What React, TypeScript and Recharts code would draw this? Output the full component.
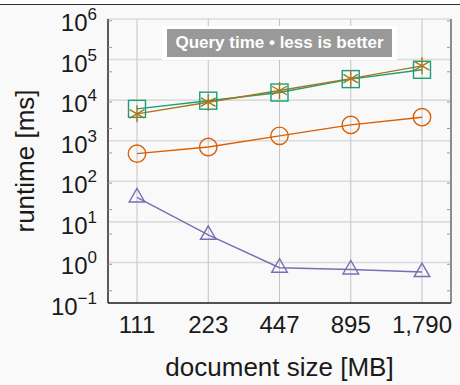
import React from 'react';
import { LineChart, Line, XAxis, YAxis, CartesianGrid, Legend } from 'recharts';

const categories = ['111', '223', '447', '895', '1,790'];
const squareSeries = [6100, 9700, 15400, 33000, 56000];
const starSeries = [4600, 8900, 17300, 34000, 70000];
const circleSeries = [480, 700, 1320, 2450, 3800];
const triangleSeries = [40, 4.8, 0.74, 0.67, 0.58];
const majorTicks = [0.1, 1, 10, 100, 1000, 10000, 100000, 1000000];
const minorMultipliers = [2, 3, 4, 5, 6, 7, 8, 9];
const legendText = 'Query time \u2022 less is better';
const xLabel = 'document size [MB]';
const yLabel = 'runtime [ms]';

const minorTicks: number[] = [];
for (let k = -1; k <= 5; k++) {
  for (const m of minorMultipliers) minorTicks.push(Number((m * Math.pow(10, k)).toPrecision(3)));
}

const data = categories.map((c, i) => ({
  cat: c,
  sq: squareSeries[i],
  st: starSeries[i],
  ci: circleSeries[i],
  tr: triangleSeries[i],
}));

const FONT = '"Liberation Sans", Arial, sans-serif';
const TEAL = '#1b9e77';
const OCHRE = '#a6761d';
const ORANGE = '#d95f02';
const PURPLE = '#7570b3';

const SquareDot = (p: any) => {
  const { cx, cy } = p;
  if (cx == null || cy == null) return null;
  const h = 8.5;
  return <rect x={cx - h} y={cy - h} width={2 * h} height={2 * h} fill="none" stroke={TEAL} strokeWidth={1.4} />;
};
const StarDot = (p: any) => {
  const { cx, cy } = p;
  if (cx == null || cy == null) return null;
  const r = 8.5;
  const dx = r * Math.cos(Math.PI / 6);
  const dy = r * Math.sin(Math.PI / 6);
  return (
    <g stroke={OCHRE} strokeWidth={1.4} fill="none">
      <line x1={cx} y1={cy - r} x2={cx} y2={cy + r} />
      <line x1={cx - dx} y1={cy - dy} x2={cx + dx} y2={cy + dy} />
      <line x1={cx - dx} y1={cy + dy} x2={cx + dx} y2={cy - dy} />
    </g>
  );
};
const CircleDot = (p: any) => {
  const { cx, cy } = p;
  if (cx == null || cy == null) return null;
  return <circle cx={cx} cy={cy} r={8.7} fill="none" stroke={ORANGE} strokeWidth={1.4} />;
};
const TriangleDot = (p: any) => {
  const { cx, cy } = p;
  if (cx == null || cy == null) return null;
  const r = 9;
  const dx = r * Math.cos(Math.PI / 6);
  const dy = r * Math.sin(Math.PI / 6);
  return (
    <polygon
      points={`${cx},${cy - r} ${cx - dx},${cy + dy} ${cx + dx},${cy + dy}`}
      fill="none"
      stroke={PURPLE}
      strokeWidth={1.4}
    />
  );
};

const YTick = (p: any) => {
  const { x, y, payload } = p;
  const exp = Math.round(Math.log10(payload.value));
  const e = exp < 0 ? '\u2212' + String(-exp) : String(exp);
  return (
    <text x={x} y={y} dy={12} textAnchor="end" fontSize={24} fill="#1a1a1a" fontFamily={FONT}>
      <tspan>10</tspan>
      <tspan dy={-11} fontSize={17}>{e}</tspan>
    </text>
  );
};

const XTick = (p: any) => {
  const { x, y, payload } = p;
  return (
    <text x={x} y={y} dy={18} textAnchor="middle" fontSize={24} fill="#1a1a1a" fontFamily={FONT}>
      {payload.value}
    </text>
  );
};

const Empty = () => <g />;

const LegendBox = () => (
  <div style={{ background: '#ffffff', padding: '3px 5px', width: 225 }}>
    <div
      style={{
        background: '#999999',
        color: '#ffffff',
        fontFamily: FONT,
        fontWeight: 'bold',
        fontSize: 17,
        lineHeight: '28px',
        height: 28,
        width: 225,
        textAlign: 'center',
        whiteSpace: 'nowrap',
      }}
    >
      {legendText}
    </div>
  </div>
);

export default function App() {
  return (
    <div style={{ position: 'fixed', left: 0, top: 0, width: 460, height: 385, background: '#ffffff' }}>
      <div style={{ position: 'absolute', left: 0, top: 5, width: 460, height: 380, background: '#f9f9f9' }} />
      <div style={{ position: 'absolute', left: 0, top: 3.5, width: 460, height: 1.5, background: '#333333' }} />
      <div style={{ position: 'absolute', left: 0, top: 0 }}>
        <LineChart width={460} height={385} data={data} margin={{ top: 19, right: 9, bottom: 0, left: 0 }}>
          <CartesianGrid horizontal={true} vertical={false} stroke="#dcdcdc" strokeWidth={1.6} fill="none" />
          <CartesianGrid horizontal={false} vertical={true} stroke="#c4c4c4" strokeWidth={1} fill="none" />
          <XAxis
            dataKey="cat"
            scale="point"
            padding={{ left: 29, right: 29 }}
            height={82}
            tickLine={false}
            tickSize={0}
            tickMargin={12}
            tick={<XTick />}
            axisLine={{ stroke: '#222222', strokeWidth: 1.4 }}
            label={{
              content: (lp: any) => {
                const vb = lp.viewBox || { x: 108, y: 303, width: 343 };
                return (
                  <text x={vb.x + vb.width / 2} y={376} textAnchor="middle" fontSize={26} fill="#1a1a1a" fontFamily={FONT}>
                    {xLabel}
                  </text>
                );
              },
            }}
          />
          <XAxis
            xAxisId="top"
            orientation="top"
            dataKey="cat"
            scale="point"
            padding={{ left: 29, right: 29 }}
            height={0}
            mirror
            tickSize={4}
            tickLine={{ stroke: '#888888' }}
            tick={<Empty />}
            axisLine={{ stroke: '#777777', strokeWidth: 1.2 }}
          />
          <YAxis
            type="number"
            scale="log"
            domain={[0.1, 1000000]}
            ticks={majorTicks}
            allowDataOverflow
            width={108}
            tickSize={0}
            tickMargin={11}
            tickLine={false}
            tick={<YTick />}
            axisLine={{ stroke: '#222222', strokeWidth: 1.4 }}
            label={{
              content: (lp: any) => {
                const vb = lp.viewBox || { x: 0, y: 19, width: 108, height: 284 };
                const cx = 25;
                const cy = vb.y + vb.height / 2;
                return (
                  <text
                    x={cx}
                    y={cy}
                    transform={`rotate(-90 ${cx} ${cy})`}
                    textAnchor="middle"
                    dominantBaseline="central"
                    fontSize={26}
                    fill="#1a1a1a"
                    fontFamily={FONT}
                  >
                    {yLabel}
                  </text>
                );
              },
            }}
          />
          <YAxis
            yAxisId="minorL"
            type="number"
            scale="log"
            domain={[0.1, 1000000]}
            ticks={minorTicks}
            allowDataOverflow
            mirror
            tickSize={4}
            tickLine={{ stroke: '#999999' }}
            tick={<Empty />}
            axisLine={false}
          />
          <YAxis
            yAxisId="minorR"
            orientation="right"
            type="number"
            scale="log"
            domain={[0.1, 1000000]}
            ticks={minorTicks}
            allowDataOverflow
            mirror
            tickSize={4}
            tickLine={{ stroke: '#999999' }}
            tick={<Empty />}
            axisLine={{ stroke: '#555555', strokeWidth: 1.2 }}
          />
          <Legend
            layout="horizontal"
            verticalAlign="middle"
            align="center"
            content={<LegendBox />}
            wrapperStyle={{ position: 'absolute', left: 162, top: 26, width: 235, height: 34 }}
          />
          <Line dataKey="sq" stroke={TEAL} strokeWidth={1.4} dot={<SquareDot />} activeDot={false} isAnimationActive={false} />
          <Line dataKey="st" stroke={OCHRE} strokeWidth={1.4} dot={<StarDot />} activeDot={false} isAnimationActive={false} />
          <Line dataKey="ci" stroke={ORANGE} strokeWidth={1.4} dot={<CircleDot />} activeDot={false} isAnimationActive={false} />
          <Line dataKey="tr" stroke={PURPLE} strokeWidth={1.4} dot={<TriangleDot />} activeDot={false} isAnimationActive={false} />
        </LineChart>
      </div>
    </div>
  );
}
